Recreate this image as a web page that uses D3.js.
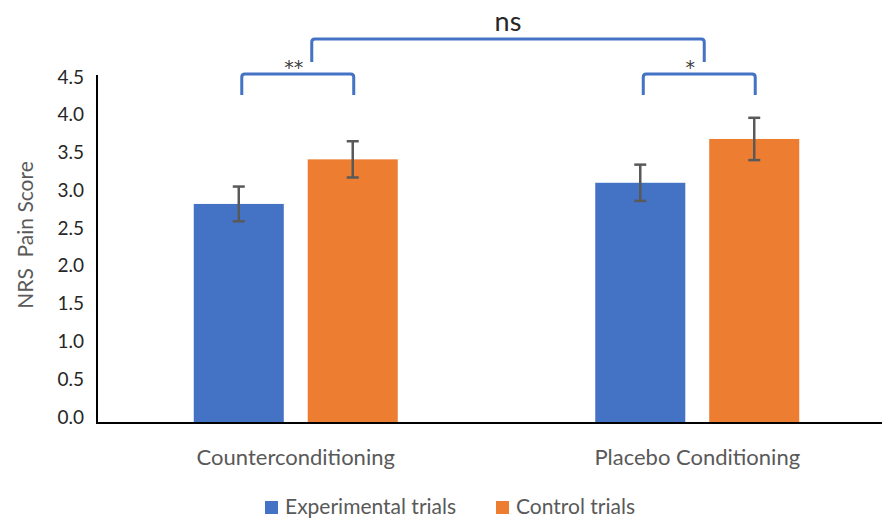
<!DOCTYPE html>
<html>
<head>
<meta charset="utf-8">
<script src="https://cdn.jsdelivr.net/npm/d3@7"></script>
<style>
body{margin:0;background:#fff}
svg{display:block}
</style>
</head>
<body>
<div id="chart"></div>
<script>
// data
var categories=["Counterconditioning","Placebo Conditioning"]
var series=["Experimental trials","Control trials"]
var experimental=[2.82,3.10]
var control=[3.41,3.68]
var expErr=[0.23,0.24]
var ctrlErr=[0.24,0.28]
var yTicks=[0,0.5,1,1.5,2,2.5,3,3.5,4,4.5]
var sigLabels=["**","*"]
var overallLabel="ns"

var colors=["#4472C4","#ED7D31"]

var svgWidth=882
var svgHeight=519

var svg=d3.select("#chart")
    .append("svg")
    .attr("width",svgWidth)
    .attr("height",svgHeight)

var font="Lato, 'Open Sans', sans-serif"

// scales
var x0=d3.scaleBand()
    .domain(categories)
    .range([95,898])
    .padding(0)

var x1=d3.scaleBand()
    .domain(series)
    .range([0,204])
    .paddingInner(0.21)
    .paddingOuter(0)

var y=d3.scaleLinear()
    .domain([0,4.5])
    .range([417,77])

var baseY=y(0)+6
var axisX=97

var rows=[]
categories.forEach((c,i)=>{
    rows.push({cat:c,ser:series[0],v:experimental[i],e:expErr[i],col:colors[0]})
    rows.push({cat:c,ser:series[1],v:control[i],e:ctrlErr[i],col:colors[1]})
})

function barX(d){
    return x0(d.cat)+x0.bandwidth()/2-102+x1(d.ser)
}

// bars
svg.selectAll("rect.bar")
    .data(rows)
    .enter()
    .append("rect")
    .attr("class","bar")
    .attr("x",d=>barX(d))
    .attr("width",x1.bandwidth())
    .attr("y",d=>y(d.v))
    .attr("height",d=>baseY-y(d.v))
    .attr("fill",d=>d.col)

// error bars
var eg=svg.selectAll("g.err")
    .data(rows)
    .enter()
    .append("g")
    .attr("class","err")
    .attr("stroke","#595959")
    .attr("stroke-width",2.5)

eg.append("line")
    .attr("x1",d=>barX(d)+x1.bandwidth()/2)
    .attr("x2",d=>barX(d)+x1.bandwidth()/2)
    .attr("y1",d=>y(d.v+d.e))
    .attr("y2",d=>y(d.v-d.e))
eg.append("line")
    .attr("x1",d=>barX(d)+x1.bandwidth()/2-6)
    .attr("x2",d=>barX(d)+x1.bandwidth()/2+6)
    .attr("y1",d=>y(d.v+d.e))
    .attr("y2",d=>y(d.v+d.e))
eg.append("line")
    .attr("x1",d=>barX(d)+x1.bandwidth()/2-6)
    .attr("x2",d=>barX(d)+x1.bandwidth()/2+6)
    .attr("y1",d=>y(d.v-d.e))
    .attr("y2",d=>y(d.v-d.e))

// axes
var leftAxis=d3.axisLeft(y).tickValues(yTicks).tickSize(0).tickPadding(0).tickFormat(d3.format(".1f"))
var ya=svg.append("g")
    .attr("transform",`translate(84,0)`)
    .call(leftAxis)
ya.select(".domain").remove()
ya.selectAll("text")
    .attr("font-family",font)
    .attr("font-size",19)
    .attr("fill","#262626")

svg.append("path")
    .attr("d",`M${axisX},75V${baseY}H${svgWidth}`)
    .attr("fill","none")
    .attr("stroke","#000")
    .attr("stroke-width",2)

// category labels
svg.selectAll("text.cat")
    .data(categories)
    .enter()
    .append("text")
    .attr("class","cat")
    .attr("x",d=>x0(d)+x0.bandwidth()/2)
    .attr("y",465)
    .attr("text-anchor","middle")
    .attr("font-family",font)
    .attr("font-size",22)
    .attr("fill","#595959")
    .text(d=>d)

// y title
svg.append("text")
    .attr("transform","translate(33,235) rotate(-90)")
    .attr("text-anchor","middle")
    .attr("font-family",font)
    .attr("font-size",21)
    .attr("fill","#595959")
    .attr("xml:space","preserve")
    .text("NRS  Pain Score")

// significance brackets
var bracketColor="#4472C4"
function bracket(xa,xb,top,bottom){
    var r=3
    return `M${xa},${bottom}V${top+r}Q${xa},${top} ${xa+r},${top}H${xb-r}Q${xb},${top} ${xb},${top+r}V${bottom}`
}
var inner=categories.map((c,i)=>{
    var a=barX(rows[i*2])+x1.bandwidth()/2+3
    var b=barX(rows[i*2+1])+x1.bandwidth()/2+1
    return {a:a,b:b,lab:sigLabels[i]}
})
svg.selectAll("path.inner")
    .data(inner)
    .enter()
    .append("path")
    .attr("class","inner")
    .attr("d",d=>bracket(d.a,d.b,74,95))
    .attr("fill","none")
    .attr("stroke",bracketColor)
    .attr("stroke-width",3)

svg.selectAll("text.sig")
    .data(inner)
    .enter()
    .append("text")
    .attr("class","sig")
    .attr("x",(d,i)=>i==0?(d.a+d.b)/2-4:(d.a+d.b)/2-9)
    .attr("y",74)
    .attr("text-anchor","middle")
    .attr("font-family","'DejaVu Sans', sans-serif")
    .attr("font-size",19)
    .attr("fill","#404040")
    .text(d=>d.lab)

var oa=x0(categories[0])+x0.bandwidth()/2+16
var ob=x0(categories[1])+x0.bandwidth()/2+7
svg.append("path")
    .attr("d",bracket(oa,ob,39,62))
    .attr("fill","none")
    .attr("stroke",bracketColor)
    .attr("stroke-width",3)

svg.append("text")
    .attr("x",(oa+ob)/2)
    .attr("y",31)
    .attr("text-anchor","middle")
    .attr("font-family",font)
    .attr("font-size",27)
    .attr("fill","#262626")
    .text(overallLabel)

// legend
var legendX=[265,496]
var lg=svg.selectAll("g.legend")
    .data(series)
    .enter()
    .append("g")
    .attr("class","legend")
    .attr("transform",(d,i)=>`translate(${legendX[i]},501)`)
lg.append("rect")
    .attr("width",13)
    .attr("height",13)
    .attr("fill",(d,i)=>colors[i])
lg.append("text")
    .attr("x",20)
    .attr("y",13)
    .attr("font-family",font)
    .attr("font-size",21)
    .attr("fill","#595959")
    .text(d=>d)
</script>
</body>
</html>
